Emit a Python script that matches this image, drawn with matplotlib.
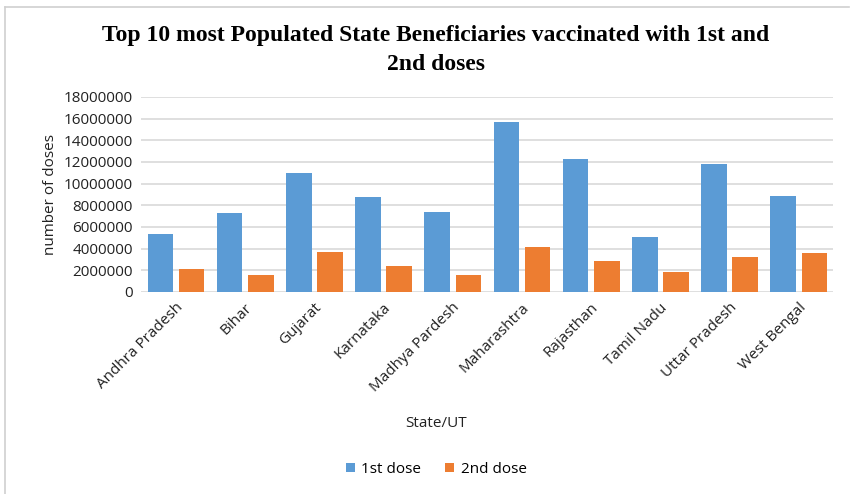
import matplotlib.pyplot as plt
import numpy as np
from matplotlib.lines import Line2D

states = ["Andhra Pradesh", "Bihar", "Gujarat", "Karnataka", "Madhya Pardesh",
          "Maharashtra", "Rajasthan", "Tamil Nadu", "Uttar Pradesh", "West Bengal"]
dose1 = [5310000, 7290000, 10960000, 8740000, 7410000,
         15650000, 12310000, 5040000, 11760000, 8860000]
dose2 = [2100000, 1610000, 3700000, 2410000, 1610000,
         4140000, 2900000, 1850000, 3180000, 3580000]
yticks = np.arange(0, 18000001, 2000000)

plt.rcParams['font.family'] = ['Open Sans', 'DejaVu Sans']

fig = plt.figure(figsize=(8.5, 4.94), dpi=100)
ax = fig.add_axes([0.166, 0.409, 0.814, 0.395])

x = np.arange(len(states))
w = 0.37
ax.bar(x - 0.22, dose1, w, color="#5B9BD5", label="1st dose", zorder=3)
ax.bar(x + 0.23, dose2, w, color="#ED7D31", label="2nd dose", zorder=3)

ax.set_xlim(-0.5, len(states) - 0.5)
ax.set_ylim(0, 18000000)
ax.set_yticks(yticks)
ax.set_yticklabels([str(v) for v in yticks], fontsize=11, color="#222222")
ax.set_xticks(x)
ax.set_xticklabels(states, rotation=45, ha="right", rotation_mode="anchor",
                   fontsize=11, color="#222222")
ax.tick_params(length=0, pad=6)
ax.yaxis.grid(True, color="#d9d9d9", linewidth=1.2, zorder=0)
for s in ax.spines.values():
    s.set_visible(False)

ax.set_ylabel("number of doses", fontsize=11, color="#222222", labelpad=4)
fig.text(0.513, 0.142, "State/UT", ha="center", va="center", fontsize=11,
         color="#222222")

fig.text(0.513, 0.916, "Top 10 most Populated State Beneficiaries vaccinated with 1st and",
         ha="center", va="baseline", fontsize=17, fontweight="bold",
         family="Liberation Serif")
fig.text(0.513, 0.858, "2nd doses", ha="center", va="baseline", fontsize=17,
         fontweight="bold", family="Liberation Serif")

fig.legend(loc="center", bbox_to_anchor=(0.513, 0.05), ncol=2, frameon=False,
           fontsize=11, handlelength=0.6, handleheight=0.6, handletextpad=0.4,
           columnspacing=1.6)

# light frame around the chart area
fig.add_artist(Line2D([0.006, 0.999], [0.986, 0.986], color="#d0d0d0", lw=1.2,
                      transform=fig.transFigure))
fig.add_artist(Line2D([0.006, 0.006], [0.0, 0.986], color="#d0d0d0", lw=1.2,
                      transform=fig.transFigure))

fig.savefig("out.png", dpi=100, facecolor="white")
